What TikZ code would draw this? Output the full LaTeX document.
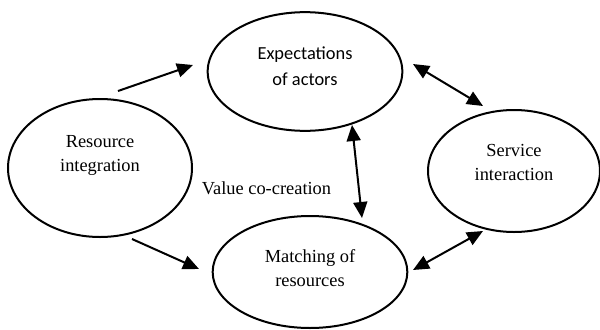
\documentclass[tikz,border=0pt]{standalone}
\usepackage{fontspec}
\setmainfont{Liberation Serif}
\newfontfamily\calibrifont{Carlito}
\usetikzlibrary{arrows.meta,shapes.geometric}
\begin{document}
\begin{tikzpicture}[x=0.75pt,y=-0.75pt,
  stage/.style={ellipse,draw,line width=1.5pt,inner sep=0pt},
  lbl/.style={align=center,font=\fontsize{13.8}{18}\selectfont},
  flow/.style={line width=1.5pt,-{Triangle[length=12pt,width=10.5pt]}},
  link/.style={line width=1.5pt,{Triangle[length=12pt,width=10.5pt]}-{Triangle[length=12pt,width=10.5pt]}}]
\useasboundingbox (0,0) rectangle (600,329);
% the four stages of the cycle
\node[stage,minimum width=138pt,minimum height=103.5pt] (res) at (100,168) {};
\node[stage,minimum width=146pt,minimum height=89pt] (exp) at (305,71.5) {};
\node[stage,minimum width=146pt,minimum height=84pt] (mat) at (310,272) {};
\node[stage,minimum width=129pt,minimum height=91.5pt] (ser) at (514,171) {};
% labels
\node[lbl] (restxt) at (100,155) {Resource\\integration};
\node[lbl,font=\calibrifont\fontsize{13.8}{19.5}\selectfont] (exptxt) at (305,66) {Expectations\\of actors};
\node[lbl] (mattxt) at (310,268) {Matching of\\resources};
\node[lbl] (sertxt) at (514,162) {Service\\interaction};
\node[lbl] (value) at (266.5,188) {Value co-creation};
% connector end points
\coordinate (r1) at (118,91);
\coordinate (e1) at (193,65);
\coordinate (r2) at (132,239);
\coordinate (m1) at (199,269);
\coordinate (e2) at (413,64);
\coordinate (s1) at (483,106);
\coordinate (e3) at (352,125);
\coordinate (m2) at (362,218);
\coordinate (m3) at (413,270);
\coordinate (s2) at (483,231);
% connectors
\draw[flow] (r1) -- (e1);
\draw[flow] (r2) -- (m1);
\draw[link] (e2) -- (s1);
\draw[link] (e3) -- (m2);
\draw[link] (m3) -- (s2);
\end{tikzpicture}
\end{document}
